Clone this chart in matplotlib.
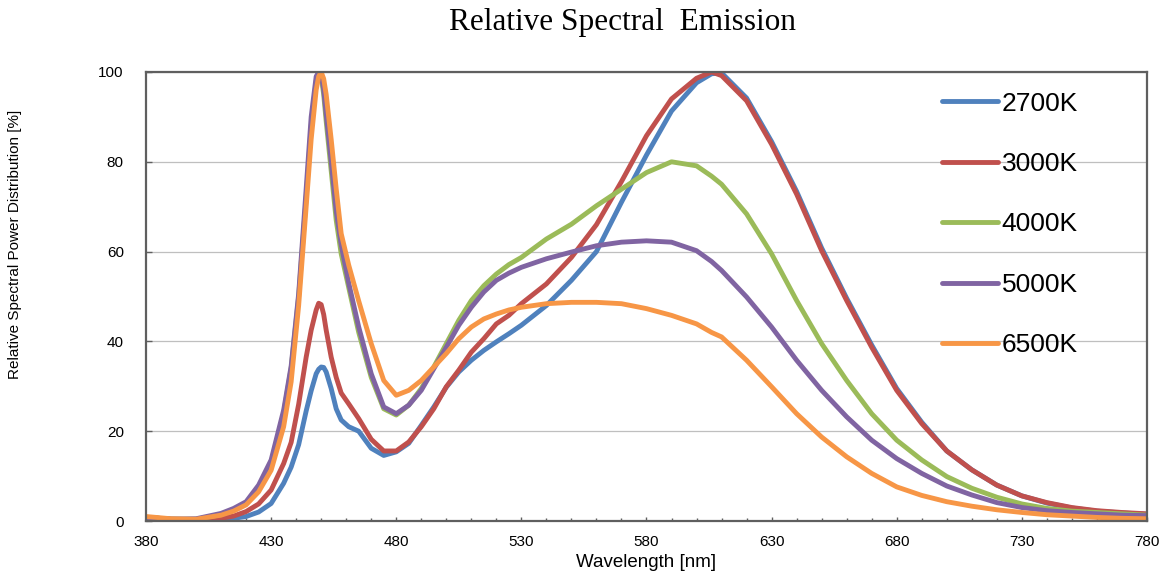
import matplotlib
matplotlib.use('Agg')
import matplotlib.pyplot as plt
from matplotlib.ticker import MultipleLocator

# wavelength grid [nm]
wl = [380, 390, 400, 410, 415, 420, 425, 430, 435, 438,
      441, 444, 446, 448, 449, 450, 451, 452, 454, 456,
      458, 461, 465, 470, 475, 480, 485, 490, 495, 500,
      505, 510, 515, 520, 525, 530, 540, 550, 560, 570,
      580, 590, 600, 606, 610, 620, 630, 640, 650, 660,
      670, 680, 690, 700, 710, 720, 730, 740, 750, 760,
      770, 780]

k2700 = [0.8, 0.4, 0.3, 0.4, 0.6, 1.0, 2.0, 3.9, 8.4, 12.0,
         17.0, 24.5, 29.0, 32.8, 33.8, 34.3, 34.2, 33.2, 29.5, 25.0,
         22.5, 21.0, 20.0, 16.2, 14.6, 15.4, 17.3, 21.3, 25.4, 29.8,
         33.2, 35.8, 38.0, 39.9, 41.7, 43.6, 48.0, 53.6, 60.0, 71.0,
         81.5, 91.3, 97.6, 99.6, 99.8, 94.2, 84.5, 73.4, 60.8, 49.6,
         39.2, 29.5, 22.0, 15.6, 11.4, 8.0, 5.6, 4.0, 2.9, 2.2,
         1.8, 1.5]

k3000 = [0.8, 0.4, 0.3, 0.6, 1.1, 2.1, 3.8, 6.9, 12.8, 17.5,
         26.0, 36.5, 42.5, 47.0, 48.5, 48.2, 46.0, 42.5, 36.5, 32.0,
         28.5, 26.1, 22.8, 18.2, 15.6, 15.6, 17.6, 21.0, 25.0, 29.9,
         33.6, 37.6, 40.6, 43.9, 45.8, 48.4, 52.8, 58.7, 66.0, 75.6,
         85.8, 94.0, 98.6, 100.0, 99.2, 93.6, 83.9, 72.8, 60.2, 49.1,
         38.7, 29.1, 21.7, 15.6, 11.4, 8.0, 5.6, 4.1, 3.0, 2.3,
         1.9, 1.6]

k4000 = [0.8, 0.4, 0.4, 1.4, 2.5, 4.0, 7.5, 13.0, 24.0, 34.0,
         50.0, 72.0, 88.0, 98.0, 100.0, 99.0, 95.0, 89.0, 78.0, 67.0,
         59.5, 52.0, 42.0, 32.0, 25.0, 23.6, 25.8, 29.5, 34.3, 39.5,
         44.7, 49.1, 52.4, 55.0, 57.1, 58.7, 62.8, 66.1, 70.2, 73.9,
         77.6, 80.0, 79.1, 76.8, 75.0, 68.4, 59.5, 49.1, 39.5, 31.3,
         23.9, 18.0, 13.6, 9.9, 7.3, 5.3, 3.8, 2.8, 2.2, 1.9,
         1.6, 1.3]

k5000 = [0.8, 0.4, 0.5, 1.7, 2.8, 4.3, 8.0, 13.6, 24.7, 34.5,
         50.6, 74.0, 90.0, 99.0, 100.0, 99.5, 96.0, 90.5, 80.0, 69.0,
         61.5, 53.0, 43.2, 32.8, 25.4, 23.9, 25.8, 29.1, 33.9, 38.7,
         43.6, 47.6, 51.0, 53.6, 55.2, 56.5, 58.4, 59.9, 61.3, 62.1,
         62.4, 62.1, 60.2, 57.8, 55.8, 49.9, 43.2, 35.8, 29.1, 23.2,
         18.0, 13.9, 10.6, 7.8, 5.8, 4.1, 3.0, 2.3, 1.9, 1.6,
         1.3, 1.2]

k6500 = [1.0, 0.5, 0.4, 1.3, 2.2, 3.6, 6.5, 11.3, 21.0, 31.0,
         48.0, 70.0, 85.0, 96.0, 99.0, 100.0, 98.5, 95.0, 85.0, 74.0,
         64.0, 57.0, 49.0, 39.5, 31.3, 28.0, 29.1, 31.3, 34.3, 37.3,
         40.6, 43.2, 45.0, 46.1, 47.0, 47.6, 48.4, 48.7, 48.7, 48.4,
         47.3, 45.8, 43.9, 42.0, 41.0, 35.8, 29.9, 23.9, 18.7, 14.3,
         10.6, 7.6, 5.7, 4.3, 3.3, 2.5, 1.9, 1.4, 1.1, 0.8,
         0.6, 0.5]

labels = ['2700K', '3000K', '4000K', '5000K', '6500K']
colors = ['#4F81BD', '#C0504D', '#9BBB59', '#8064A2', '#F79646']
xticks = [380, 430, 480, 530, 580, 630, 680, 730, 780]

plt.rcParams['font.family'] = ['Liberation Sans', 'DejaVu Sans']

fig = plt.figure(figsize=(11.7, 5.82), dpi=100)
ax = fig.add_axes([0.1248, 0.1048, 0.8555, 0.7715])

for y, lab, c in zip([k2700, k3000, k4000, k5000, k6500], labels, colors):
    ax.plot(wl, y, color=c, lw=3.5, label=lab, solid_joinstyle='round', solid_capstyle='round')

ax.set_xlim(380, 780)
ax.set_ylim(0, 100)
ax.set_xticks(xticks)
ax.xaxis.set_minor_locator(MultipleLocator(10))
ax.yaxis.set_major_locator(MultipleLocator(20))
ax.grid(axis='y', color='#BFBFBF', lw=0.9)
ax.set_axisbelow(True)
for s in ax.spines.values():
    s.set_color('#5F5F5F')
    s.set_linewidth(1.6)
ax.tick_params(axis='x', which='major', direction='in', length=3, width=1, color='#5F5F5F',
               labelsize=11, pad=10)
ax.tick_params(axis='x', which='minor', direction='in', length=2, width=1, color='#5F5F5F')
ax.tick_params(axis='y', which='major', direction='in', length=4, width=1, color='#5F5F5F',
               labelsize=11, pad=16)

ax.set_xlabel('Wavelength [nm]', fontsize=13.5, labelpad=4)
fig.text(0.013, 0.58, 'Relative Spectral Power Distribution [%]', rotation=90,
         fontsize=11, ha='center', va='center')
fig.text(0.532, 0.962, 'Relative Spectral  Emission', fontsize=22.5,
         family='Liberation Serif', ha='center', va='center')

leg = ax.legend(loc='upper left', bbox_to_anchor=(0.785, 0.98), frameon=False,
                fontsize=19, handlelength=2.1, handletextpad=0.15, labelspacing=1.38,
                borderaxespad=0)
for h in leg.get_lines():
    h.set_linewidth(3.5)

fig.savefig('out.png', dpi=100)
